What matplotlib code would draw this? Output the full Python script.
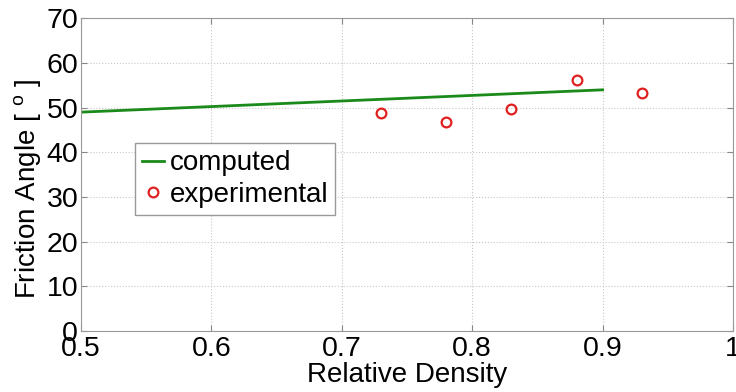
import matplotlib
matplotlib.use("Agg")
import matplotlib.pyplot as plt

# computed curve (straight line) and experimental points
comp_x = [0.5, 0.9]
comp_y = [49.0, 54.0]
exp_x = [0.73, 0.78, 0.83, 0.88, 0.93]
exp_y = [48.8, 46.8, 49.8, 56.1, 53.4]

xticks = [0.5, 0.6, 0.7, 0.8, 0.9, 1]
xtick_labels = ["0.5", "0.6", "0.7", "0.8", "0.9", "1"]
yticks = [0, 10, 20, 30, 40, 50, 60, 70]

plt.rcParams["font.family"] = ["Liberation Sans", "DejaVu Sans"]

fig = plt.figure(figsize=(7.36, 3.92), dpi=100)
ax = fig.add_axes([0.110, 0.156, 0.886, 0.797])

ax.plot(comp_x, comp_y, color="#1a8a1a", lw=2, label="computed")
ax.plot(exp_x, exp_y, ls="none", marker="o", ms=7, mfc="none", mec="#e02020",
        mew=1.6, label="experimental")

ax.set_xlim(0.5, 1)
ax.set_ylim(0, 70)
ax.set_xticks(xticks)
ax.set_xticklabels(xtick_labels)
ax.set_yticks(yticks)
ax.grid(True, ls=":", color="#c8c8c8", lw=0.8)
ax.tick_params(direction="in", labelsize=20.5, length=4, color="#888888",
               top=True, right=True)
ax.tick_params(axis="x", pad=3.5)
ax.tick_params(axis="y", pad=2)
for s in ax.spines.values():
    s.set_color("#999999")

ax.set_xlabel("Relative Density", fontsize=20, labelpad=0)
ax.set_ylabel("Friction Angle [ $^{\\mathregular{o}}$ ]", fontsize=20)
ax.yaxis.set_label_coords(-0.057, 0.455)

leg = ax.legend(loc="upper left", bbox_to_anchor=(0.083, 0.60), fontsize=20,
                handlelength=0.8, handletextpad=0.2, borderpad=0.25,
                labelspacing=0.2, fancybox=False, framealpha=1,
                edgecolor="#999999", borderaxespad=0)
leg.get_frame().set_linewidth(1.0)

fig.savefig("out.png", dpi=100)
